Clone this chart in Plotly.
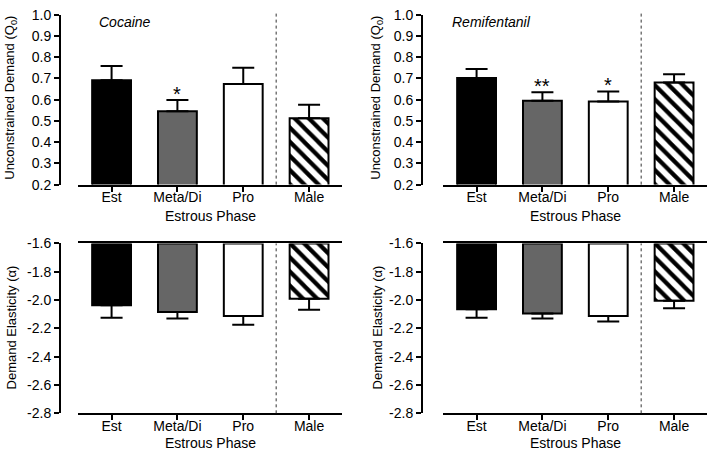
import plotly.graph_objects as go

categories = ["Est", "Meta/Di", "Pro", "Male"]

cocaine_q0 = [0.692, 0.545, 0.674, 0.512]
cocaine_q0_sem = [0.067, 0.054, 0.077, 0.064]
cocaine_q0_sig = ["", "*", "", ""]

remi_q0 = [0.702, 0.595, 0.591, 0.681]
remi_q0_sem = [0.043, 0.040, 0.047, 0.039]
remi_q0_sig = ["", "**", "*", ""]

cocaine_alpha = [-2.036, -2.084, -2.113, -1.991]
cocaine_alpha_sem = [0.089, 0.046, 0.062, 0.077]

remi_alpha = [-2.064, -2.095, -2.113, -2.004]
remi_alpha_sem = [0.061, 0.035, 0.039, 0.053]

drug_names = ["Cocaine", "Remifentanil"]
alpha_base = -1.6

q0_ticks = [0.2, 0.3, 0.4, 0.5, 0.6, 0.7, 0.8, 0.9, 1.0]
alpha_ticks = [-2.8, -2.6, -2.4, -2.2, -2.0, -1.8, -1.6]

fill_colors = ["black", "#666666", "white", "black"]
pattern_shapes = ["", "", "", "\\"]

W, H = 709, 458
FONT = "Arial, Liberation Sans, sans-serif"


def px(x):
    return x / W


def py(y):
    return 1 - y / H


fig = go.Figure()

panels = [
    (cocaine_q0, cocaine_q0_sem, True, "x", "y"),
    (remi_q0, remi_q0_sem, True, "x2", "y2"),
    (cocaine_alpha, cocaine_alpha_sem, False, "x3", "y3"),
    (remi_alpha, remi_alpha_sem, False, "x4", "y4"),
]

for vals, sem, up, xa, ya in panels:
    if up:
        yv = vals
        base = None
        err = dict(type="data", symmetric=False, array=sem, arrayminus=[0] * 4,
                   color="black", thickness=2, width=11)
    else:
        yv = [v - alpha_base for v in vals]
        base = alpha_base
        err = dict(type="data", symmetric=False, array=[0] * 4, arrayminus=sem,
                   color="black", thickness=2, width=11)
    fig.add_trace(go.Bar(
        x=categories, y=yv, base=base, xaxis=xa, yaxis=ya,
        width=0.59,
        marker=dict(color=fill_colors, line=dict(color="black", width=2),
                    pattern=dict(shape=pattern_shapes, fgcolor="white",
                                 bgcolor="black", size=10, solidity=0.42,
                                 fillmode="replace")),
        error_y=err, showlegend=False, hoverinfo="skip",
    ))

left_x = (78, 342)
right_x = (443, 707)
top_y = (7, 183)
bot_y = (244, 420)

common_x = dict(type="category", range=[-0.51, 3.5], showline=True, linewidth=2,
                linecolor="black", ticks="outside", ticklen=5, tickwidth=2,
                tickcolor="black", showgrid=False, zeroline=False,
                ticklabelstandoff=-6,
                tickfont=dict(family=FONT, size=14, color="black"))
common_y = dict(showline=True, linewidth=2, linecolor="black", ticks="outside",
                ticklen=5, tickwidth=2, tickcolor="black", showgrid=False,
                zeroline=False, anchor="free",
                tickfont=dict(family=FONT, size=14, color="black"))

q0_text = [f"{t:.1f}" for t in q0_ticks]
alpha_text = [f"{t:.1f}" for t in alpha_ticks]

fig.update_layout(
    width=W, height=H, margin=dict(l=0, r=0, t=0, b=0),
    paper_bgcolor="white", plot_bgcolor="white",
    font=dict(family=FONT, color="black"),
    xaxis=dict(common_x, domain=[px(left_x[0]), px(left_x[1])], anchor="y"),
    yaxis=dict(common_y, domain=[py(top_y[1]), py(top_y[0])], range=[0.2, 1.0],
               tickvals=q0_ticks, ticktext=q0_text, position=px(60)),
    xaxis2=dict(common_x, domain=[px(right_x[0]), px(right_x[1])], anchor="y2"),
    yaxis2=dict(common_y, domain=[py(top_y[1]), py(top_y[0])], range=[0.2, 1.0],
                tickvals=q0_ticks, ticktext=q0_text, position=px(422)),
    xaxis3=dict(common_x, domain=[px(left_x[0]), px(left_x[1])], anchor="y3", mirror=True),
    yaxis3=dict(common_y, domain=[py(bot_y[1]), py(bot_y[0])], range=[-2.8, -1.6],
                tickvals=alpha_ticks, ticktext=alpha_text, position=px(60)),
    xaxis4=dict(common_x, domain=[px(right_x[0]), px(right_x[1])], anchor="y4", mirror=True),
    yaxis4=dict(common_y, domain=[py(bot_y[1]), py(bot_y[0])], range=[-2.8, -1.6],
                tickvals=alpha_ticks, ticktext=alpha_text, position=px(422)),
)

for xa, ya, top in [("x", "y", 1.01), ("x2", "y2", 1.01), ("x3", "y3", 1.0), ("x4", "y4", 1.0)]:
    fig.add_shape(type="line", xref=xa, yref=ya + " domain", x0=2.5, x1=2.5, y0=0, y1=top,
                  line=dict(color="#333333", width=1, dash="dot"))

ann = []
for xpix in (11, 377):
    ann.append(dict(text="Unconstrained Demand (Q<sub>0</sub>)", x=px(xpix), y=py(93),
                    xref="paper", yref="paper", xanchor="center", yanchor="middle",
                    textangle=-90, showarrow=False,
                    font=dict(family=FONT, size=13, color="black")))
    ann.append(dict(text="Demand Elasticity (α)", x=px(xpix), y=py(331),
                    xref="paper", yref="paper", xanchor="center", yanchor="middle",
                    textangle=-90, showarrow=False,
                    font=dict(family=FONT, size=13, color="black")))
for xc in ((left_x[0] + left_x[1]) / 2, (right_x[0] + right_x[1]) / 2):
    for yc in (216, 451):
        ann.append(dict(text="Estrous Phase", x=px(xc), y=py(yc), xref="paper", yref="paper",
                        xanchor="center", yanchor="middle", showarrow=False,
                        font=dict(family=FONT, size=14, color="black")))
for name, xpix in zip(drug_names, (97, 450)):
    ann.append(dict(text="<i>" + name + "</i>", x=px(xpix), y=py(14), xref="paper",
                    yref="paper", xanchor="left", yanchor="middle", showarrow=False,
                    font=dict(family=FONT, size=14, color="black")))
for vals, sem, sig, xa, ya in [(cocaine_q0, cocaine_q0_sem, cocaine_q0_sig, "x", "y"),
                               (remi_q0, remi_q0_sem, remi_q0_sig, "x2", "y2")]:
    for c, v, s, g in zip(categories, vals, sem, sig):
        if g:
            ann.append(dict(text=g, x=c, y=v + s + 0.03, xref=xa, yref=ya,
                            xanchor="center", yanchor="middle",
                            showarrow=False, font=dict(family=FONT, size=20, color="black")))

fig.update_layout(annotations=ann)
fig.write_html("out.html", config={"displayModeBar": False},
               post_script="document.body.style.margin='0';")
